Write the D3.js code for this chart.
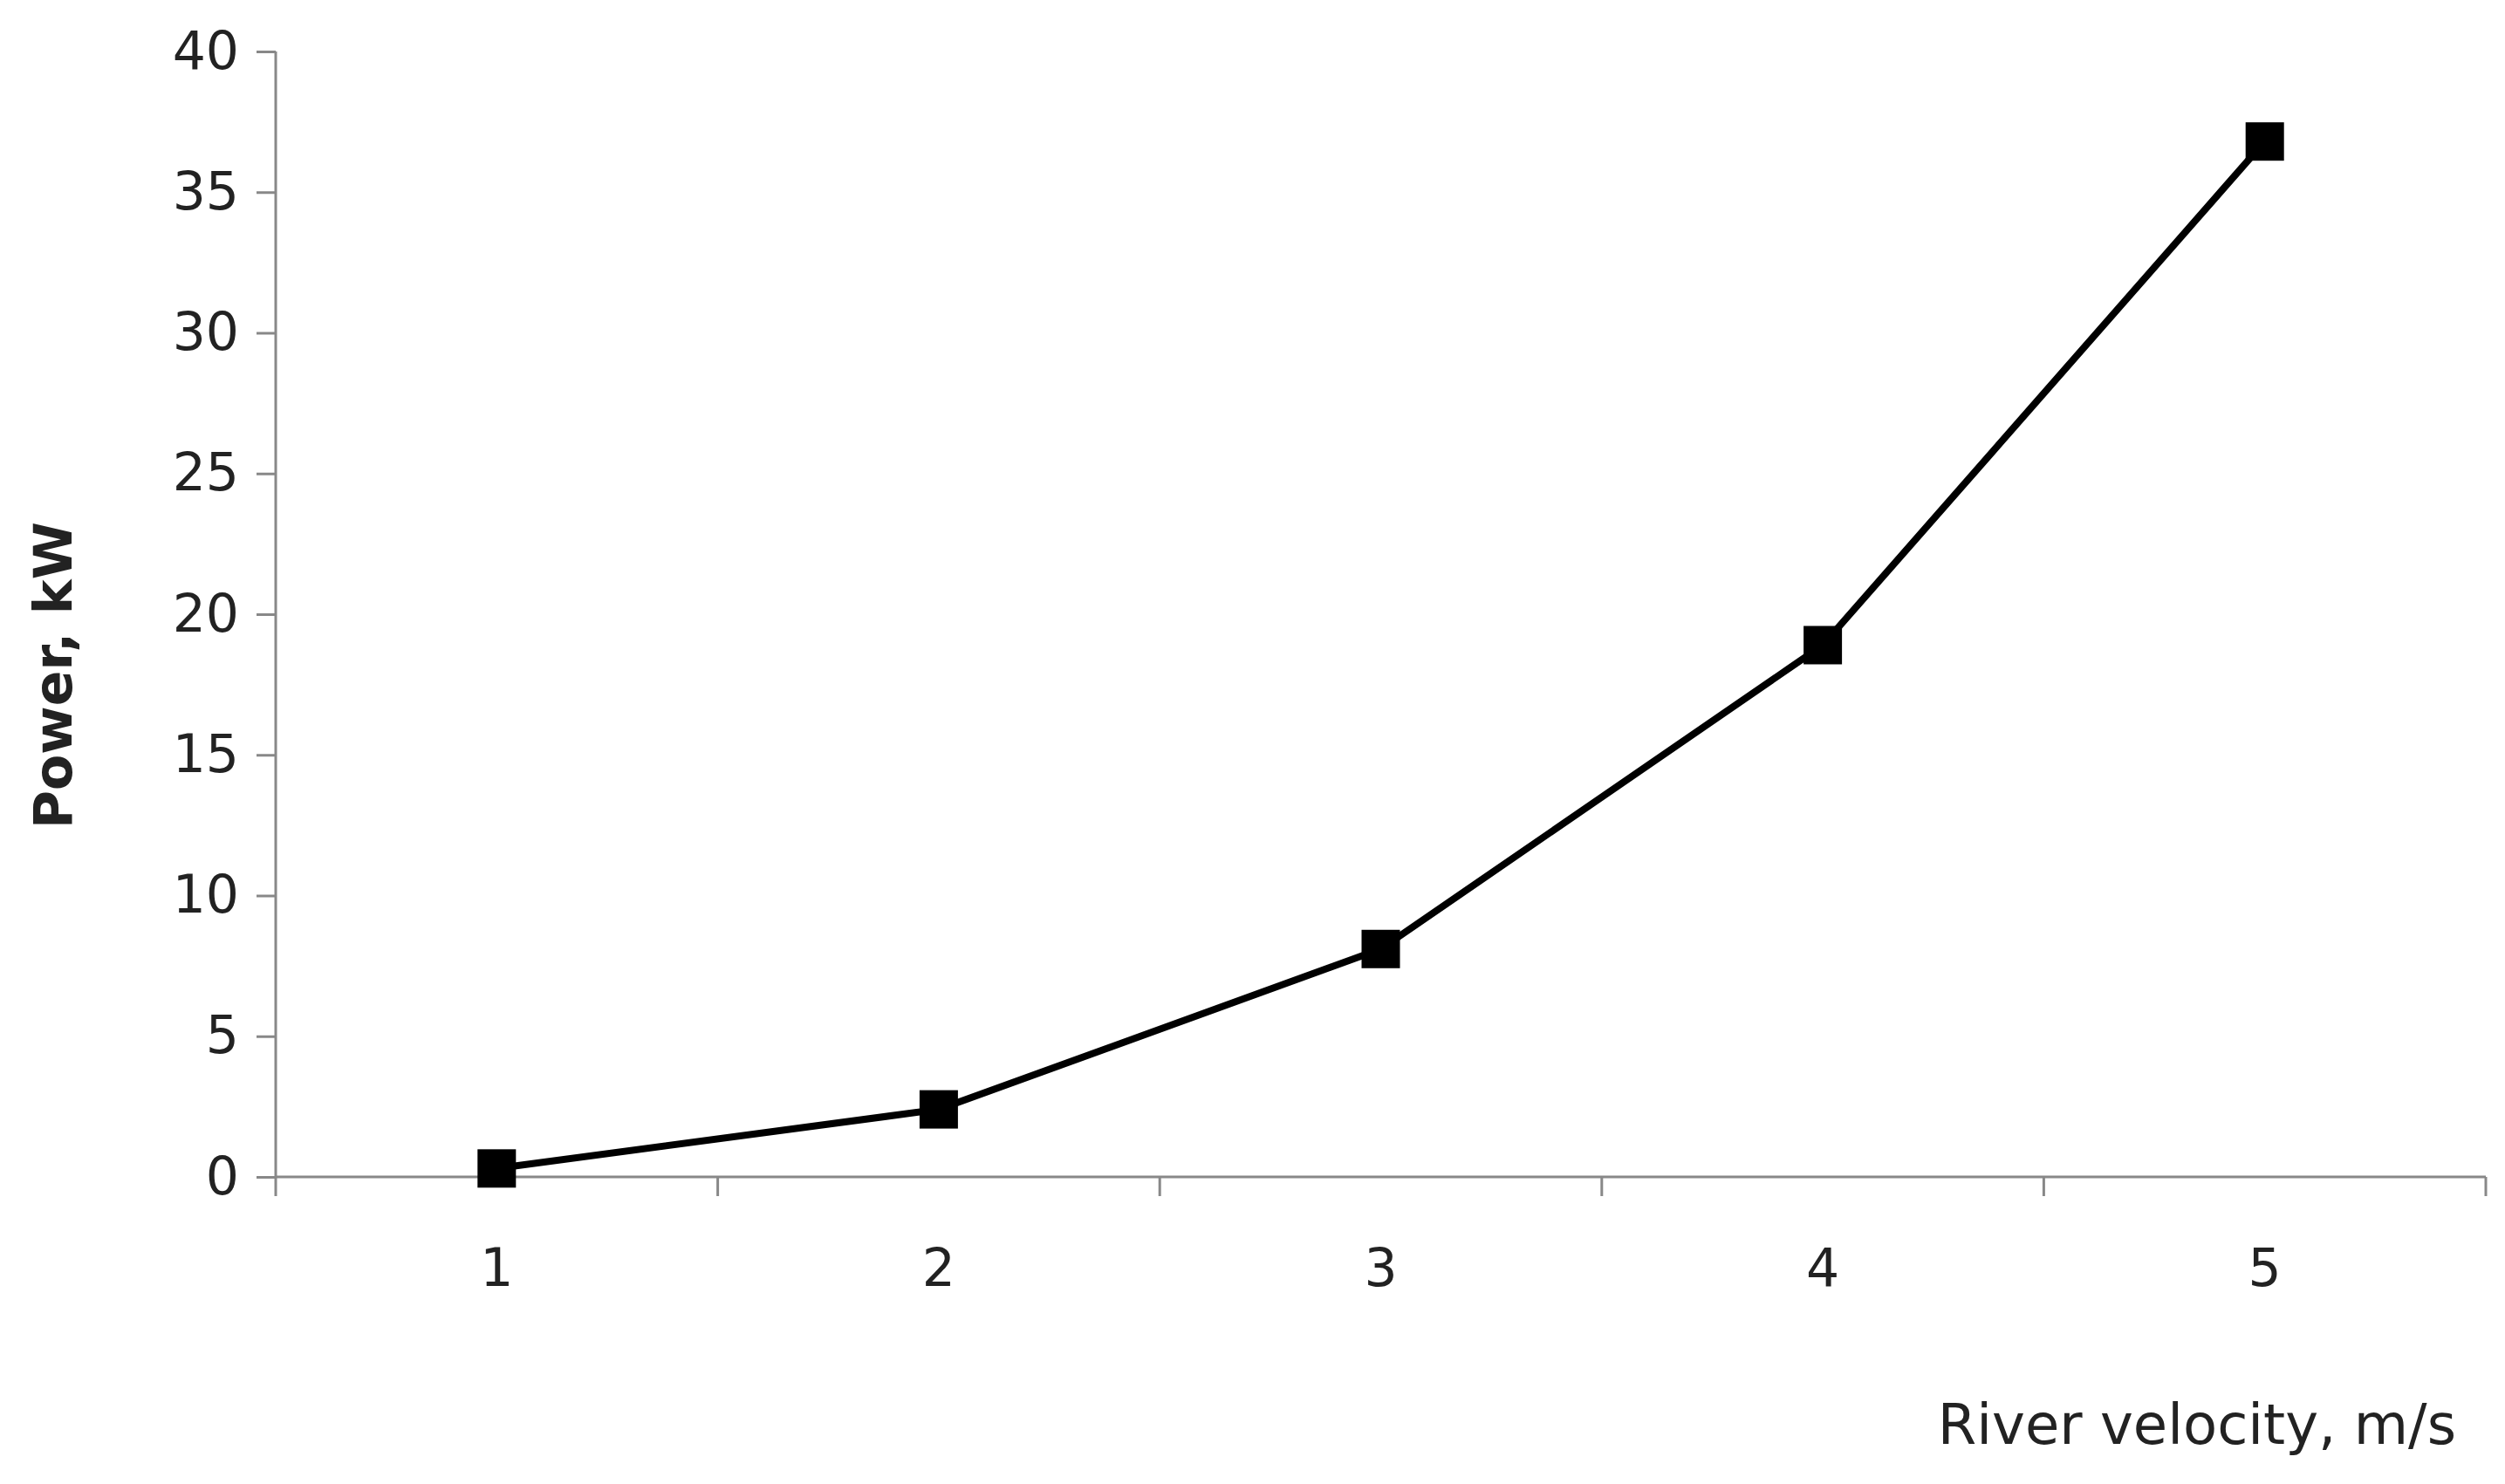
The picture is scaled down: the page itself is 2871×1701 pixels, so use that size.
<!DOCTYPE html>
<html><head><meta charset="utf-8">
<script src="https://cdn.jsdelivr.net/npm/d3@7"></script>
<style>body{margin:0;background:#fff}</style></head>
<body><svg id="c" width="2871" height="1701"></svg>
<script>
const categories = ["1","2","3","4","5"];
const powerValues = [0.3, 2.4, 8.1, 18.9, 36.8];
const yTicks = [0,5,10,15,20,25,30,35,40];

const svg = d3.select("#c");
const L = 316, R = 2849, T = 59, B = 1349;
const x = d3.scaleBand().domain(categories).range([L, R]);
const y = d3.scaleLinear().domain([0, 40]).range([B, T]);
const font = "DejaVu Sans, Verdana, sans-serif";

const yAxis = svg.append("g").attr("transform", `translate(${L},0)`)
  .call(d3.axisLeft(y).tickValues(yTicks).tickSize(22).tickPadding(20));
const xAxis = svg.append("g").attr("transform", `translate(0,${B})`)
  .call(d3.axisBottom(x).tickSize(22).tickPadding(60));
// band-boundary ticks
xAxis.selectAll(".tick line").remove();
const bounds = categories.map(c => x(c)).concat([R]);
xAxis.selectAll(".bt").data(bounds).enter().append("line")
  .attr("x1", d => d).attr("x2", d => d).attr("y1", 0).attr("y2", 22);
[yAxis, xAxis].forEach(g => {
  g.select(".domain").attr("stroke", "#888").attr("stroke-width", 3);
  g.selectAll("line").attr("stroke", "#888").attr("stroke-width", 3);
  g.selectAll("text").attr("font-family", font).attr("font-size", 60).attr("fill", "#222");
});
xAxis.select(".domain").attr("d", `M${L},0H${R}`);
yAxis.select(".domain").attr("d", `M0,${T}V${B}`);

const pts = categories.map((c, i) => [x(c) + x.bandwidth()/2, y(powerValues[i])]);
svg.append("path").attr("d", d3.line()(pts)).attr("fill", "none")
  .attr("stroke", "#000").attr("stroke-width", 8).attr("stroke-linejoin", "round");
svg.selectAll(".m").data(pts).enter().append("rect")
  .attr("x", d => d[0]-22).attr("y", d => d[1]-22).attr("width", 44).attr("height", 44).attr("fill", "#000");

svg.append("text").attr("x", 2815).attr("y", 1655).attr("text-anchor", "end")
  .attr("font-family", font).attr("font-size", 64).attr("fill", "#222").text("River velocity, m/s");
svg.append("text").attr("transform", `translate(82,${(T+B)/2+70}) rotate(-90)`)
  .attr("text-anchor", "middle").attr("font-family", font).attr("font-weight", "bold")
  .attr("font-size", 60).attr("fill", "#222").text("Power, kW");
</script></body></html>
